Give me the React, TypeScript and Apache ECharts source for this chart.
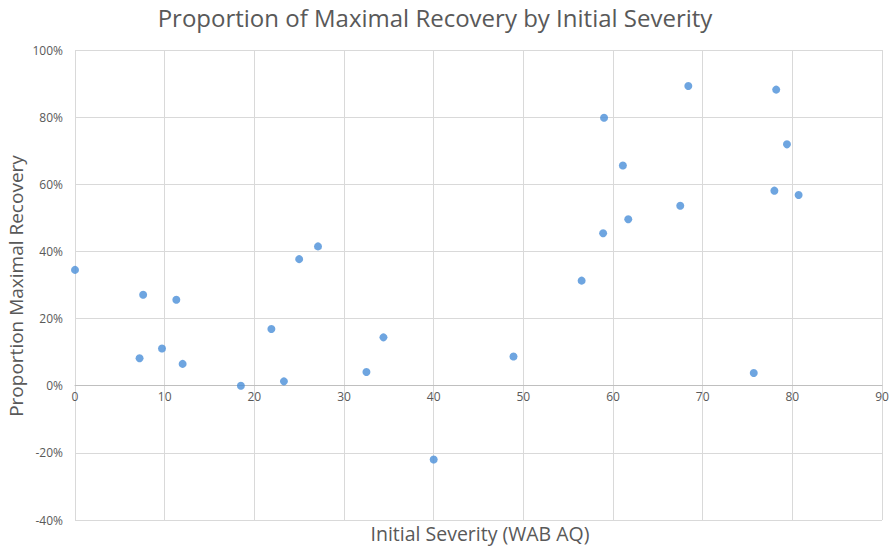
import React, { useEffect, useRef } from "react";
import * as echarts from "echarts";

const titleText = "Proportion of Maximal Recovery by Initial Severity";
const xAxisTitle = "Initial Severity (WAB AQ)";
const yAxisTitle = "Proportion Maximal Recovery";

const severity = [
  0, 7.6, 11.3, 7.2, 9.7, 12.0, 18.5, 21.9, 23.3, 25.0, 27.1, 32.5, 34.4, 40.0,
  48.9, 56.5, 58.9, 59.0, 61.1, 61.7, 67.5, 68.4, 75.7, 78.0, 78.2, 79.4, 80.7,
];
const recovery = [
  0.345, 0.271, 0.256, 0.082, 0.111, 0.065, 0.0, 0.169, 0.013, 0.377, 0.415, 0.041, 0.144, -0.22,
  0.087, 0.313, 0.454, 0.798, 0.656, 0.496, 0.536, 0.893, 0.038, 0.581, 0.882, 0.719, 0.568,
];

const xTicks = { min: 0, max: 90, interval: 10 };
const yTicks = { min: -0.4, max: 1.0, interval: 0.2 };

export default function App() {
  const ref = useRef<HTMLDivElement>(null);
  useEffect(() => {
    if (!ref.current) return;
    const chart = echarts.init(ref.current, undefined, { renderer: "svg" });
    const font = "'Open Sans', 'Liberation Sans', sans-serif";
    const data = severity.map((x, i) => [x, recovery[i]]);
    const gridTop = 50;
    const gridBottom = 31;
    const plotH = 551 - gridTop - gridBottom;
    // move the x axis up from the bottom of the grid to the 0% line
    const zeroOffset = -plotH * (0 - yTicks.min) / (yTicks.max - yTicks.min);
    chart.setOption({
      animation: false,
      backgroundColor: "#ffffff",
      textStyle: { fontFamily: font },
      title: {
        text: titleText,
        left: 430,
        top: 0,
        textAlign: "center",
        textStyle: { fontFamily: font, fontSize: 24, fontWeight: "normal", color: "#595959" },
      },
      grid: { left: 75, right: 11, top: gridTop, bottom: gridBottom, containLabel: false },
      xAxis: {
        type: "value",
        min: xTicks.min,
        max: xTicks.max,
        interval: xTicks.interval,
        position: "bottom",
        offset: zeroOffset,
        axisLine: { show: true, onZero: false, lineStyle: { color: "#bfbfbf", width: 1 } },
        axisTick: { show: false },
        axisLabel: { color: "#595959", fontSize: 12, margin: 5, fontFamily: font },
        splitLine: { show: true, lineStyle: { color: "#d9d9d9", width: 1 } },
      },
      yAxis: {
        type: "value",
        min: yTicks.min,
        max: yTicks.max,
        interval: yTicks.interval,
        axisLine: { show: false },
        axisTick: { show: false },
        axisLabel: {
          color: "#595959",
          fontSize: 12,
          margin: 12,
          fontFamily: font,
          formatter: (v: number) => Math.round(v * 100) + "%",
        },
        splitLine: { show: true, lineStyle: { color: "#d9d9d9", width: 1 } },
      },
      graphic: [
        {
          type: "text",
          x: 480,
          y: 533,
          style: {
            text: xAxisTitle,
            fontFamily: font,
            fontSize: 19.5,
            fill: "#595959",
            textAlign: "center",
            textVerticalAlign: "middle",
          },
        },
        {
          type: "text",
          x: 16,
          y: 286,
          rotation: Math.PI / 2,
          style: {
            text: yAxisTitle,
            fontFamily: font,
            fontSize: 19,
            fill: "#595959",
            textAlign: "center",
            textVerticalAlign: "middle",
          },
        },
      ],
      series: [
        {
          type: "scatter",
          data,
          symbol: "circle",
          symbolSize: 8,
          itemStyle: { color: "#4a8fd8" },
        },
      ],
    });
    return () => chart.dispose();
  }, []);
  return (
    <div
      ref={ref}
      style={{ position: "fixed", left: 0, top: 0, width: 893, height: 551, background: "#fff" }}
    />
  );
}
